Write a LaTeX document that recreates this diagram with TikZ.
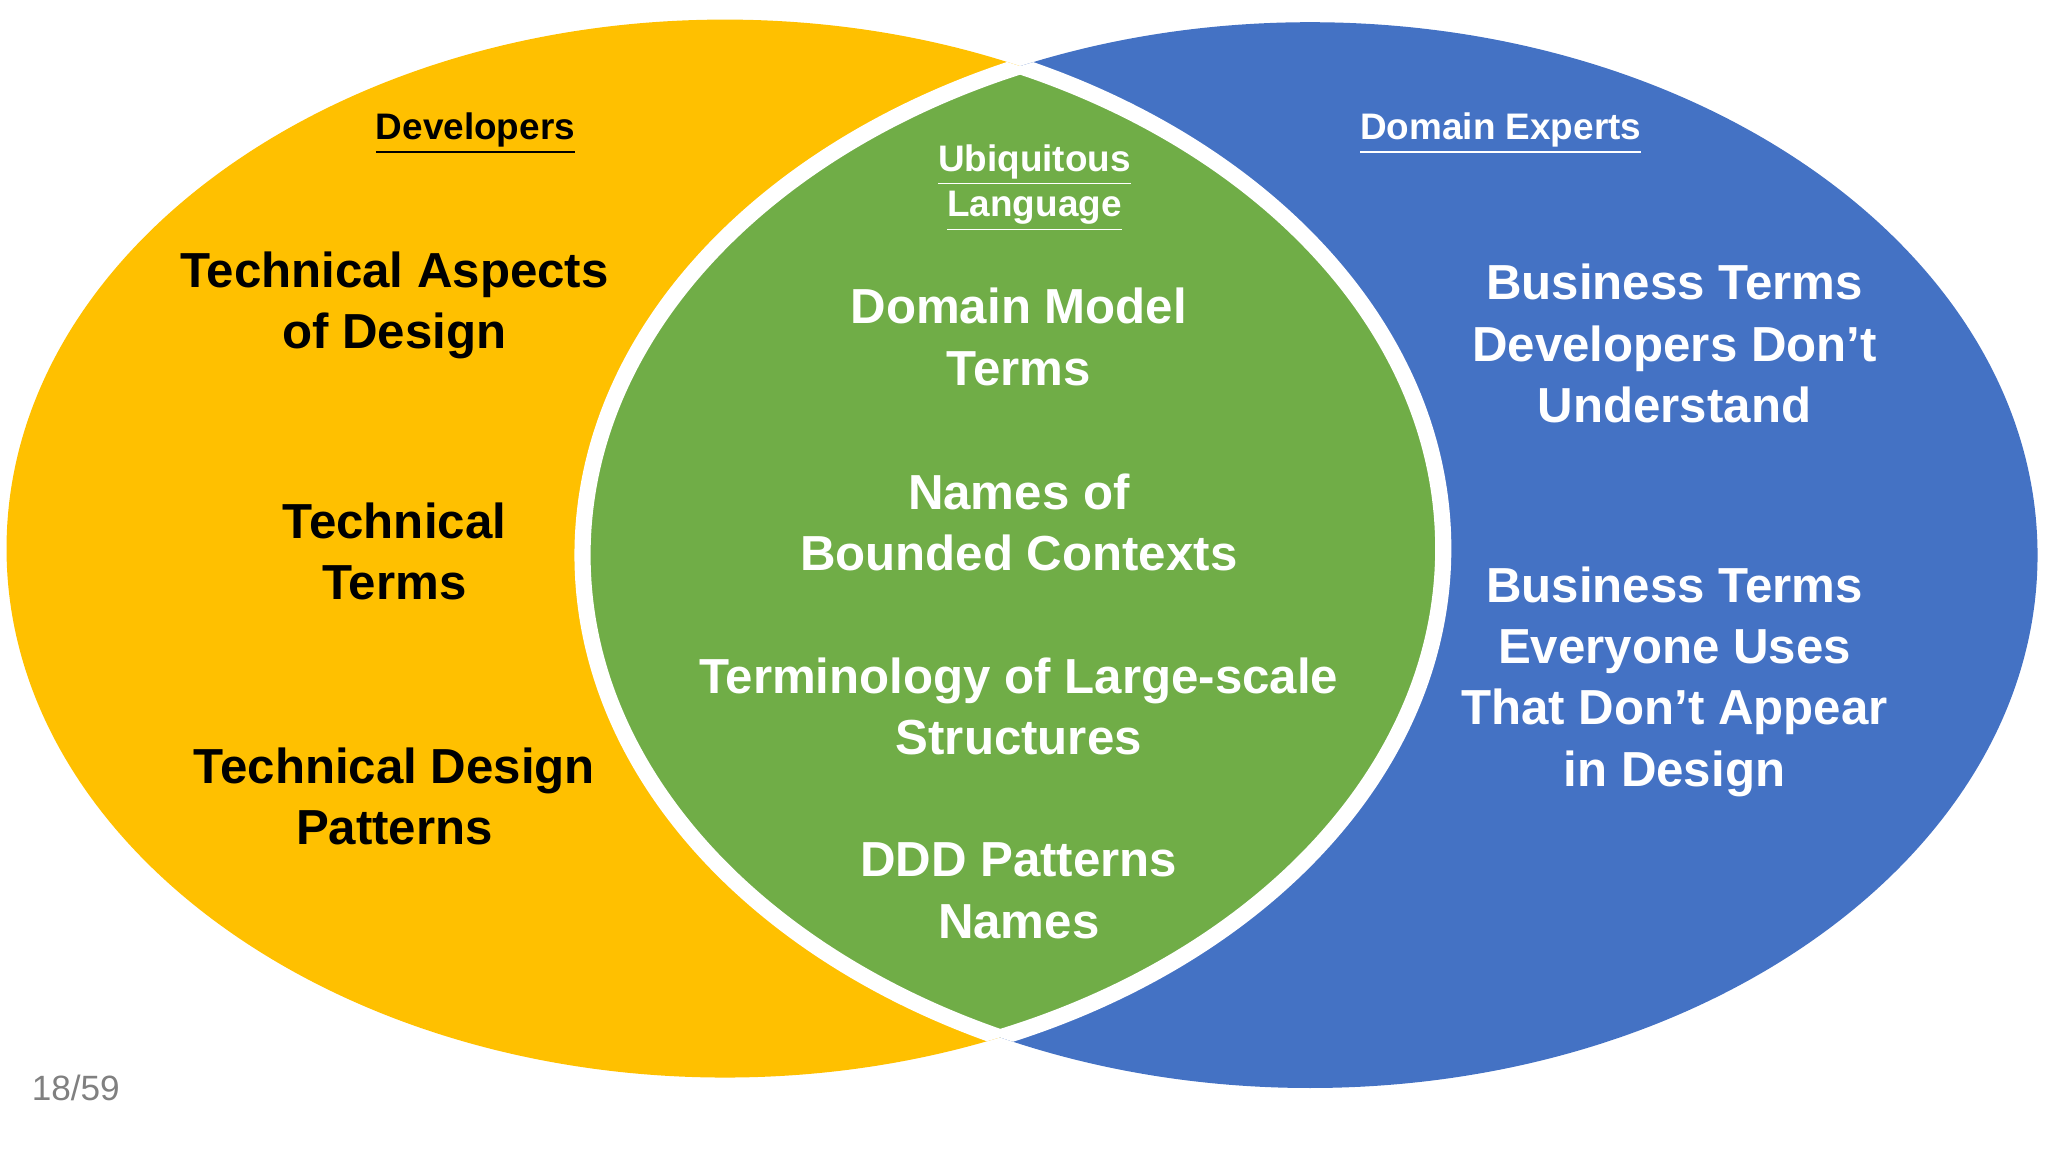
\documentclass[tikz,border=0pt]{standalone}
\usepackage{fontspec}
\setmainfont{Liberation Sans}
\definecolor{devyellow}{HTML}{FFC000}
\definecolor{expblue}{HTML}{4472C4}
\definecolor{ulgreen}{HTML}{70AD47}
\begin{document}
\begin{tikzpicture}[x=0.01306cm, y=-0.01306cm]
\tikzset{
  term/.style={align=center, font=\fontsize{14}{17.4}\selectfont\bfseries},
  head/.style={align=center, font=\fontsize{10.5}{13}\selectfont\bfseries}
}
\useasboundingbox (0,0) rectangle (1568,882);
% the two circles
\fill[devyellow] (555,420) ellipse [x radius=550, y radius=405];
\fill[expblue] (1003,425) ellipse [x radius=557, y radius=408];
% overlap
\begin{scope}
  \clip (555,420) ellipse [x radius=550, y radius=405];
  \fill[ulgreen] (1003,425) ellipse [x radius=557, y radius=408];
  \draw[white, line width=4.6pt] (1003,425) ellipse [x radius=557, y radius=408];
\end{scope}
\begin{scope}
  \clip (1003,425) ellipse [x radius=557, y radius=408];
  \draw[white, line width=4.6pt] (555,420) ellipse [x radius=550, y radius=405];
\end{scope}

\node[head] (dev) at (364,102) {\underline{Developers}};
\node[term] (techasp) at (302,234) {Technical Aspects\\of Design};
\node[term] (techterm) at (302,422) {Technical\\Terms};
\node[term] (techpat) at (302,610) {Technical Design\\Patterns};

\node[head, white] (ul) at (792,144) {\underline{Ubiquitous}\\\underline{Language}};
\node[term, white] (dmt) at (780,258) {Domain Model\\Terms};
\node[term, white] (bc) at (780,400) {Names of\\Bounded Contexts};
\node[term, white] (lss) at (780,541) {Terminology of Large-scale\\Structures};
\node[term, white] (ddd) at (780,682) {DDD Patterns\\Names};

\node[head, white] (exp) at (1149,102) {\underline{Domain Experts}};
\node[term, white] (bizdont) at (1282,263) {Business Terms\\Developers Don’t\\Understand};
\node[term, white] (bizall) at (1282,522) {Business Terms\\Everyone Uses\\That Don’t Appear\\in Design};

\node[gray, font=\fontsize{10}{12}\selectfont] (page) at (58,833) {18/59};
\end{tikzpicture}
\end{document}
